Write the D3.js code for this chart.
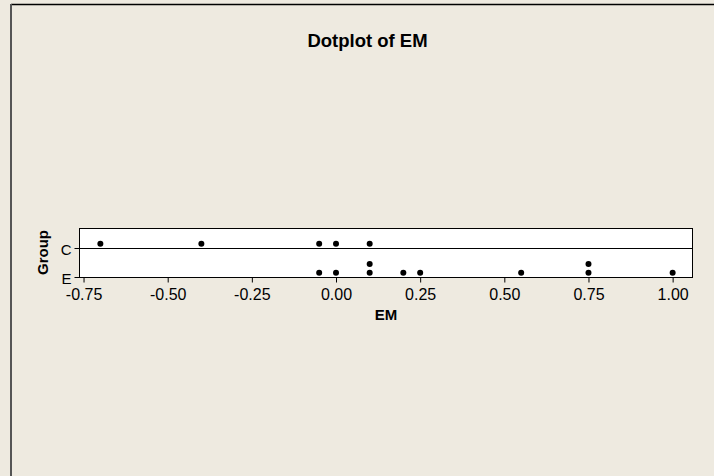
<!DOCTYPE html>
<html>
<head>
<meta charset="utf-8">
<script src="https://cdn.jsdelivr.net/npm/d3@7"></script>
<style>
  html, body { margin: 0; padding: 0; background: #eeeae0; }
  svg { display: block; }
  text { font-family: "Liberation Sans", Arial, sans-serif; fill: #000; }
</style>
</head>
<body>
<svg id="chart" width="714" height="476"></svg>
<script>
// Group labels and the EM values observed in each group
const groups = ["C", "E"];
const valuesC = [-0.70, -0.40, -0.05, 0.00, 0.10];
const valuesE = [-0.05, 0.00, 0.10, 0.10, 0.20, 0.25, 0.55, 0.75, 0.75, 1.00];
const xTicks = [-0.75, -0.50, -0.25, 0.00, 0.25, 0.50, 0.75, 1.00];

const svg = d3.select("#chart");
const W = 714, H = 476;

// outer frame of the graph window
svg.append("rect").attr("x", 0).attr("y", 0).attr("width", W).attr("height", H).attr("fill", "#eeeae0");
svg.append("line").attr("x1", 11).attr("x2", W).attr("y1", 4.5).attr("y2", 4.5)
  .attr("stroke", "#000").attr("stroke-width", 1.5);
svg.append("line").attr("x1", 11).attr("x2", 11).attr("y1", 4).attr("y2", H)
  .attr("stroke", "#555").attr("stroke-width", 2);

// plotting region
const plotL = 79.5, plotR = 692.5, plotT = 228.5, plotB = 277.5;
const x = d3.scaleLinear().domain([-0.762, 1.059]).range([plotL, plotR]);
// each group's row baseline
const y = d3.scalePoint().domain(groups).range([248.5, plotB]);

svg.append("rect").attr("x", plotL).attr("y", plotT)
  .attr("width", plotR - plotL).attr("height", plotB - plotT)
  .attr("fill", "#fff").attr("stroke", "#000").attr("stroke-width", 1);
// divider under the first group's row
svg.append("line").attr("x1", plotL).attr("x2", plotR)
  .attr("y1", y("C")).attr("y2", y("C"))
  .attr("stroke", "#000").attr("stroke-width", 1);

// x axis
const xAxis = d3.axisBottom(x).tickValues(xTicks)
  .tickFormat(d => d3.format(".2f")(d).replace("−", "-"))
  .tickSize(5).tickSizeOuter(0);
const gx = svg.append("g").attr("transform", `translate(0,${plotB})`).call(xAxis);
gx.select(".domain").remove();
gx.selectAll(".tick line").attr("stroke", "#000");
gx.selectAll(".tick text").attr("font-size", 16).attr("y", 22.5).attr("dy", null)
  .attr("font-family", "Liberation Sans, Arial, sans-serif");

// y axis ticks and group labels
const gy = svg.append("g");
groups.forEach(g => {
  gy.append("line").attr("x1", plotL - 5).attr("x2", plotL).attr("y1", y(g)).attr("y2", y(g))
    .attr("stroke", "#000");
  gy.append("text").attr("x", plotL - 8).attr("y", y(g) + 6.5)
    .attr("text-anchor", "end").attr("font-size", 15).text(g);
});

// stacked dots
const dotR = 3;
const step = 8.7;
function stackDots(values, group) {
  const counts = new Map();
  return values.map(v => {
    const k = v.toFixed(2);
    const n = counts.get(k) || 0;
    counts.set(k, n + 1);
    return { v, group, level: n };
  });
}
const dots = stackDots(valuesC, "C").concat(stackDots(valuesE, "E"));
svg.append("g").selectAll("circle").data(dots).join("circle")
  .attr("cx", d => x(d.v))
  .attr("cy", d => y(d.group) - 4.7 - d.level * step)
  .attr("r", dotR)
  .attr("fill", "#000");

// titles
svg.append("text").attr("x", 367.5).attr("y", 46.5).attr("text-anchor", "middle")
  .attr("font-size", 18.5).attr("font-weight", "bold").text("Dotplot of EM");
svg.append("text").attr("x", (plotL + plotR) / 2).attr("y", 320).attr("text-anchor", "middle")
  .attr("font-size", 15).attr("font-weight", "bold").text("EM");
svg.append("text").attr("transform", `translate(48,252.5) rotate(-90)`)
  .attr("text-anchor", "middle").attr("font-size", 15).attr("font-weight", "bold").text("Group");
</script>
</body>
</html>
